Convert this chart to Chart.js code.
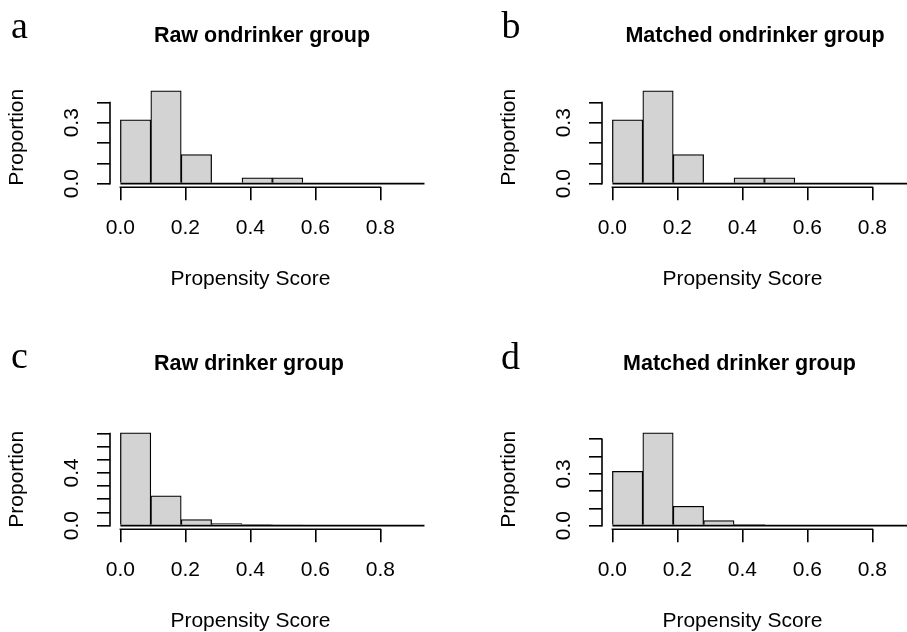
<!DOCTYPE html>
<html>
<head>
<meta charset="utf-8">
<title>Propensity Score</title>
<script src="https://cdn.jsdelivr.net/npm/chart.js@4.4.1/dist/chart.umd.min.js"></script>
<style>
    html, body { margin: 0; padding: 0; background: #fff; }
    #figure { position: relative; width: 907px; height: 632px; overflow: hidden; }
    #figure canvas { position: absolute; }
    #labels { position: absolute; left: 0; top: 0; }
</style>
</head>
<body>
<div id="figure">
    <canvas id="chartA" width="460" height="300" style="left:0px;top:0px"></canvas>
    <canvas id="chartB" width="460" height="300" style="left:492px;top:0px"></canvas>
    <canvas id="chartC" width="460" height="300" style="left:0px;top:342px"></canvas>
    <canvas id="chartD" width="460" height="300" style="left:492px;top:342px"></canvas>
    <svg id="labels" width="907" height="632" xmlns="http://www.w3.org/2000/svg"></svg>
</div>
<script>
// Istogrammi del propensity score - gruppi raw / matched

// Estremi delle classi (uguali nei quattro pannelli)
const binEdges = [0, 0.0936, 0.1872, 0.2808, 0.3744, 0.468, 0.5616, 0.6552, 0.7488, 0.8424, 0.936];

// Proporzioni per classe
const rawNondrinker = [0.314, 0.457, 0.143, 0, 0.029, 0.029, 0, 0, 0, 0];
const matchedNondrinker = [0.314, 0.457, 0.143, 0, 0.029, 0.029, 0, 0, 0, 0];
const rawDrinker = [0.704, 0.227, 0.046, 0.015, 0.007, 0.001, 0, 0, 0, 0];
const matchedDrinker = [0.314, 0.537, 0.112, 0.029, 0.008, 0, 0, 0, 0, 0];

// Asse x
const xLimits = [0, 0.8];
const xTicks = [0, 0.2, 0.4, 0.6, 0.8];

// Assi y: tick e tick con etichetta
const yTicksNondrinker = [0, 0.1, 0.2, 0.3, 0.4];
const yLabelsNondrinker = [0, 0.3];
const yTicksRawDrinker = [0, 0.1, 0.2, 0.3, 0.4, 0.5, 0.6, 0.7];
const yLabelsRawDrinker = [0, 0.4];
const yTicksMatchedDrinker = [0, 0.1, 0.2, 0.3, 0.4, 0.5];
const yLabelsMatchedDrinker = [0, 0.3];

// Testi
const panelLetters = ['a', 'b', 'c', 'd'];
const panelTitles = ['Raw ondrinker group', 'Matched ondrinker group', 'Raw drinker group', 'Matched drinker group'];
const xTitle = 'Propensity Score';
const yTitle = 'Proportion';

// Posizione di lettere e titoli (coordinate pagina)
const letterPos = [[11, 38.3], [501.5, 38.3], [11, 368.3], [501, 369]];
const titlePos = [[262, 41.7], [755, 41.7], [249, 370], [739.5, 370]];

const sansFont = "'Liberation Sans', Arial, sans-serif";
const tickFont = { family: sansFont, size: 21 };
const labelFont = { family: sansFont, size: 21 };
const LINE = 1.6;

// Asse in stile R: linea solo dal primo all'ultimo tick
const rAxes = {
    id: 'rAxes',
    afterDraw(chart) {
        const { ctx, chartArea, scales: { x, y } } = chart;
        const xt = x.ticks;
        const yt = y.ticks;
        ctx.save();
        ctx.strokeStyle = '#000';
        ctx.lineWidth = LINE;
        ctx.lineCap = 'square';
        ctx.beginPath();
        ctx.moveTo(x.getPixelForValue(xt[0].value), chartArea.bottom);
        ctx.lineTo(x.getPixelForValue(xt[xt.length - 1].value), chartArea.bottom);
        ctx.moveTo(chartArea.left, y.getPixelForValue(yt[0].value));
        ctx.lineTo(chartArea.left, y.getPixelForValue(yt[yt.length - 1].value));
        ctx.stroke();
        ctx.restore();
    }
};

function axisGrid() {
    return {
        display: true,
        drawOnChartArea: false,
        drawTicks: true,
        tickLength: 13,
        offset: false,
        color: '#000',
        lineWidth: LINE
    };
}

// Crea un istogramma
function makeHistogram(canvasId, values, yTicks, yLabels) {
    const ymax = Math.max(...values);
    const yPad = ymax * 0.04;
    const xPad = (xLimits[1] - xLimits[0]) * 0.04;
    const centers = values.map((v, i) => (binEdges[i] + binEdges[i + 1]) / 2);

    return new Chart(document.getElementById(canvasId), {
        type: 'bar',
        data: {
            datasets: [
                {
                    type: 'line',
                    data: [
                        { x: binEdges[0], y: 0 },
                        { x: binEdges[binEdges.length - 1], y: 0 }
                    ],
                    borderColor: '#000',
                    borderWidth: LINE,
                    pointRadius: 0,
                    clip: false,
                    order: 0
                },
                {
                    type: 'bar',
                    data: values.map((v, i) => ({ x: centers[i], y: v })),
                    backgroundColor: '#d3d3d3',
                    borderColor: '#000',
                    borderWidth: 1.25,
                    barPercentage: 1,
                    categoryPercentage: 1,
                    clip: false,
                    order: 1
                }
            ]
        },
        options: {
            responsive: false,
            animation: false,
            events: [],
            layout: { padding: { left: 0, top: 87.2, right: 69.3, bottom: 0 } },
            plugins: {
                legend: { display: false },
                tooltip: { enabled: false },
                title: { display: false }
            },
            scales: {
                x: {
                    type: 'linear',
                    min: xLimits[0] - xPad,
                    max: xLimits[1] + xPad,
                    offset: false,
                    afterBuildTicks: s => { s.ticks = xTicks.map(v => ({ value: v })); },
                    afterFit: s => { s.height = 112.7; },
                    grid: axisGrid(),
                    border: { display: false },
                    ticks: {
                        autoSkip: false,
                        maxRotation: 0,
                        padding: 15.4,
                        color: '#000',
                        font: tickFont,
                        callback: v => v.toFixed(1)
                    },
                    title: {
                        display: true,
                        text: xTitle,
                        color: '#000',
                        font: labelFont,
                        padding: { top: 0, bottom: 7.9 }
                    }
                },
                y: {
                    type: 'linear',
                    min: -yPad,
                    max: ymax + yPad,
                    afterBuildTicks: s => { s.ticks = yTicks.map(v => ({ value: v })); },
                    afterFit: s => { s.width = 110; },
                    grid: axisGrid(),
                    border: { display: false },
                    ticks: {
                        autoSkip: false,
                        minRotation: 90,
                        maxRotation: 90,
                        crossAlign: 'center',
                        padding: 10.4,
                        color: '#000',
                        font: tickFont,
                        callback: v => yLabels.some(l => Math.abs(l - v) < 1e-9) ? v.toFixed(1) : ''
                    },
                    title: {
                        display: true,
                        text: yTitle,
                        color: '#000',
                        font: labelFont,
                        padding: { top: 4.9, bottom: 0 }
                    }
                }
            }
        },
        plugins: [rAxes]
    });
}

// Lettere e titoli dei pannelli
function drawPanelTexts() {
    const svg = document.getElementById('labels');
    const ns = 'http://www.w3.org/2000/svg';
    panelLetters.forEach((letter, i) => {
        const t = document.createElementNS(ns, 'text');
        t.setAttribute('x', letterPos[i][0]);
        t.setAttribute('y', letterPos[i][1]);
        t.setAttribute('font-family', "'Liberation Serif', 'Times New Roman', serif");
        t.setAttribute('font-size', '38');
        t.setAttribute('fill', '#000');
        t.textContent = letter;
        svg.appendChild(t);
    });
    panelTitles.forEach((title, i) => {
        const t = document.createElementNS(ns, 'text');
        t.setAttribute('x', titlePos[i][0]);
        t.setAttribute('y', titlePos[i][1]);
        t.setAttribute('text-anchor', 'middle');
        t.setAttribute('font-family', sansFont);
        t.setAttribute('font-weight', 'bold');
        t.setAttribute('font-size', '21.5');
        t.setAttribute('fill', '#000');
        t.textContent = title;
        svg.appendChild(t);
    });
}

makeHistogram('chartA', rawNondrinker, yTicksNondrinker, yLabelsNondrinker);
makeHistogram('chartB', matchedNondrinker, yTicksNondrinker, yLabelsNondrinker);
makeHistogram('chartC', rawDrinker, yTicksRawDrinker, yLabelsRawDrinker);
makeHistogram('chartD', matchedDrinker, yTicksMatchedDrinker, yLabelsMatchedDrinker);
drawPanelTexts();
</script>
</body>
</html>
